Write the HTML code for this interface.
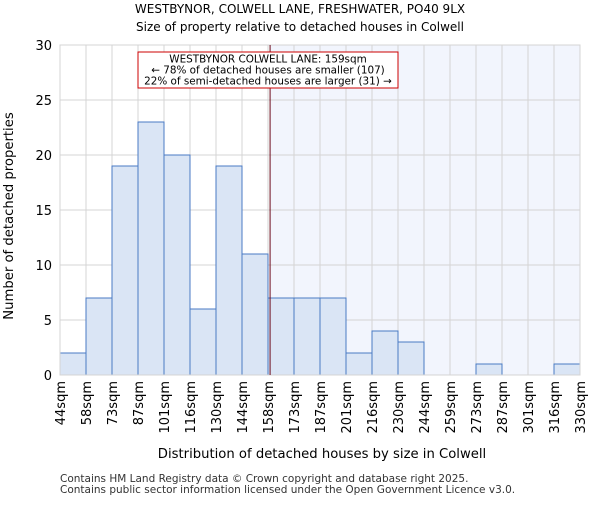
<!DOCTYPE html>
<html><head><meta charset="utf-8"><style>body{margin:0;background:#fff}svg text{font-family:"DejaVu Sans","Liberation Sans",sans-serif}</style></head>
<body>
<svg id="c" width="600" height="500">
<text x="300" y="13" text-anchor="middle" font-size="12">WESTBYNOR, COLWELL LANE, FRESHWATER, PO40 9LX</text>
<text x="300" y="31" text-anchor="middle" font-size="12">Size of property relative to detached houses in Colwell</text>
<g id="g"></g>
<text x="322" y="458" text-anchor="middle" font-size="13.2">Distribution of detached houses by size in Colwell</text>
<text transform="translate(13,216) rotate(-90)" text-anchor="middle" font-size="13.2">Number of detached properties</text>
<text x="60" y="482" font-size="10.5" fill="#333">Contains HM Land Registry data © Crown copyright and database right 2025.</text>
<text x="60" y="493" font-size="10.5" fill="#333">Contains public sector information licensed under the Open Government Licence v3.0.</text>
</svg>
<script>
const categories=["44sqm","58sqm","73sqm","87sqm","101sqm","116sqm","130sqm","144sqm","158sqm","173sqm","187sqm","201sqm","216sqm","230sqm","244sqm","259sqm","273sqm","287sqm","301sqm","316sqm","330sqm"];
const counts=[2,7,19,23,20,6,19,11,7,7,7,2,4,3,0,0,1,0,0,1];
const yTicks=[0,5,10,15,20,25,30];
const markerIndex=8.08;
const L=60,R=580,T=45,B=375,yMax=30;
const bw=(R-L)/counts.length;
const xs=i=>L+i*bw, ys=v=>B-v/yMax*(B-T);
const g=document.getElementById('g'),NS='http://www.w3.org/2000/svg';
function mk(t,a,p){const e=document.createElementNS(NS,t);for(const k in a)e.setAttribute(k,a[k]);(p||g).appendChild(e);return e;}
const mx=xs(markerIndex);
let e=mk('rect',{x:mx,y:T,width:R-mx,height:B-T,fill:'#f2f5fd'});


categories.forEach((c,i)=>{mk('line',{x1:xs(i),x2:xs(i),y1:T,y2:B,stroke:'#d4d4d4','stroke-width':1});});
yTicks.forEach(v=>{mk('line',{x1:L,x2:R,y1:ys(v),y2:ys(v),stroke:'#d4d4d4'});
 let t=mk('text',{x:L-8,y:ys(v)+5,'text-anchor':'end','font-size':13});t.textContent=v;
 
 });
counts.forEach((v,i)=>{if(!v)return;let r=mk('rect',{x:xs(i),y:ys(v),width:bw,height:B-ys(v),fill:'#dae5f5',stroke:'#4a7ac4','stroke-width':1});
 
 });
categories.forEach((c,i)=>{let t=mk('text',{transform:`translate(${xs(i)+5},${B+6}) rotate(-90)`,'text-anchor':'end','font-size':13});t.textContent=c;
 
 });
mk('rect',{x:L,y:T,width:R-L,height:B-T,fill:'none',stroke:'#d4d4d4'});
e=mk('line',{x1:mx,x2:mx,y1:T,y2:B,stroke:'#6b0a1a','stroke-width':1});


const box=mk('g',{});


mk('rect',{x:138,y:52,width:260,height:36,fill:'#fff',stroke:'#c00','stroke-width':1},box);
["WESTBYNOR COLWELL LANE: 159sqm","← 78% of detached houses are smaller (107)","22% of semi-detached houses are larger (31) →"].forEach((s,i)=>{let t=mk('text',{x:268,y:62.5+i*11,'text-anchor':'middle','font-size':10.4},box);t.textContent=s;});
</script>
</body></html>
